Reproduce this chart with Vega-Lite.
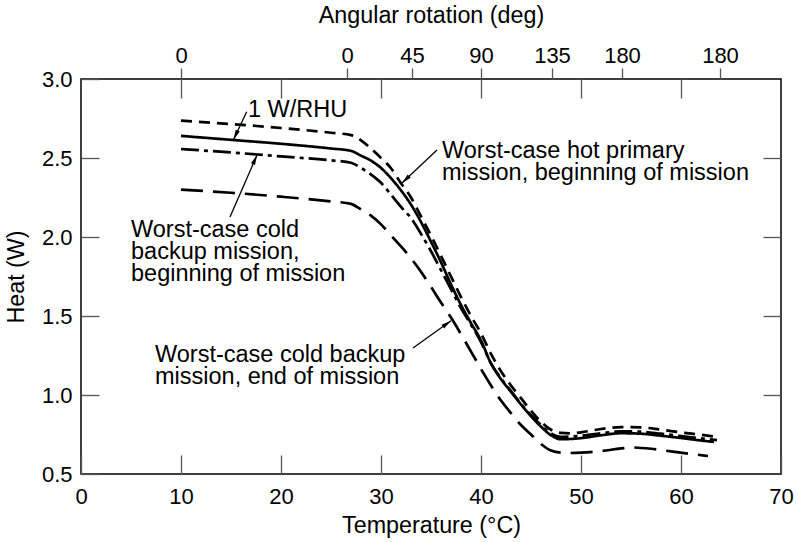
{
  "$schema": "https://vega.github.io/schema/vega-lite/v6.json",
  "width": 700,
  "height": 395,
  "autosize": {"type": "none"},
  "padding": {"left": 81, "top": 79, "right": 17, "bottom": 68},
  "config": {
    "view": {"stroke": "black", "strokeWidth": 1.5},
    "font": "Liberation Sans",
    "axis": {
      "grid": false,
      "domain": false,
      "labelFont": "Liberation Sans",
      "titleFont": "Liberation Sans",
      "labelColor": "black",
      "titleColor": "black",
      "labelFontSize": 22,
      "titleFontSize": 23.3,
      "titleFontWeight": "normal",
      "tickColor": "#555555",
      "tickWidth": 1.3,
      "labelFlush": false,
      "labelOverlap": false
    }
  },
  "datasets": {
    "curves": [
      {"series": "hot", "t": 10, "h": 2.736},
      {"series": "hot", "t": 15, "h": 2.715},
      {"series": "hot", "t": 20, "h": 2.69},
      {"series": "hot", "t": 25, "h": 2.66},
      {"series": "hot", "t": 27, "h": 2.645},
      {"series": "hot", "t": 28, "h": 2.612},
      {"series": "hot", "t": 29, "h": 2.56},
      {"series": "hot", "t": 30, "h": 2.5},
      {"series": "hot", "t": 31, "h": 2.435},
      {"series": "hot", "t": 32, "h": 2.34},
      {"series": "hot", "t": 33, "h": 2.25},
      {"series": "hot", "t": 34, "h": 2.13},
      {"series": "hot", "t": 35, "h": 2.01},
      {"series": "hot", "t": 36, "h": 1.88},
      {"series": "hot", "t": 37, "h": 1.75},
      {"series": "hot", "t": 38, "h": 1.62},
      {"series": "hot", "t": 39, "h": 1.5},
      {"series": "hot", "t": 40, "h": 1.39},
      {"series": "hot", "t": 41, "h": 1.26},
      {"series": "hot", "t": 42, "h": 1.15},
      {"series": "hot", "t": 43, "h": 1.06},
      {"series": "hot", "t": 44, "h": 0.98},
      {"series": "hot", "t": 45, "h": 0.9},
      {"series": "hot", "t": 46, "h": 0.83},
      {"series": "hot", "t": 47, "h": 0.78},
      {"series": "hot", "t": 48, "h": 0.76},
      {"series": "hot", "t": 49, "h": 0.757},
      {"series": "hot", "t": 50, "h": 0.764},
      {"series": "hot", "t": 52, "h": 0.785},
      {"series": "hot", "t": 54, "h": 0.797},
      {"series": "hot", "t": 56, "h": 0.795},
      {"series": "hot", "t": 58, "h": 0.78},
      {"series": "hot", "t": 60, "h": 0.763},
      {"series": "hot", "t": 62, "h": 0.748},
      {"series": "hot", "t": 63.6, "h": 0.735},
      {"series": "rhu", "t": 10, "h": 2.64},
      {"series": "rhu", "t": 15, "h": 2.615},
      {"series": "rhu", "t": 20, "h": 2.59},
      {"series": "rhu", "t": 25, "h": 2.56},
      {"series": "rhu", "t": 27, "h": 2.545},
      {"series": "rhu", "t": 28, "h": 2.515},
      {"series": "rhu", "t": 29, "h": 2.483},
      {"series": "rhu", "t": 30, "h": 2.437},
      {"series": "rhu", "t": 31, "h": 2.372},
      {"series": "rhu", "t": 32, "h": 2.295},
      {"series": "rhu", "t": 33, "h": 2.205},
      {"series": "rhu", "t": 34, "h": 2.095},
      {"series": "rhu", "t": 35, "h": 1.97},
      {"series": "rhu", "t": 36, "h": 1.84},
      {"series": "rhu", "t": 37, "h": 1.7},
      {"series": "rhu", "t": 38, "h": 1.57},
      {"series": "rhu", "t": 39, "h": 1.455},
      {"series": "rhu", "t": 40, "h": 1.345},
      {"series": "rhu", "t": 41, "h": 1.2},
      {"series": "rhu", "t": 42, "h": 1.1},
      {"series": "rhu", "t": 43, "h": 1.02},
      {"series": "rhu", "t": 44, "h": 0.94},
      {"series": "rhu", "t": 45, "h": 0.865},
      {"series": "rhu", "t": 46, "h": 0.8},
      {"series": "rhu", "t": 47, "h": 0.745},
      {"series": "rhu", "t": 48, "h": 0.72},
      {"series": "rhu", "t": 50, "h": 0.727},
      {"series": "rhu", "t": 52, "h": 0.745},
      {"series": "rhu", "t": 54, "h": 0.758},
      {"series": "rhu", "t": 56, "h": 0.755},
      {"series": "rhu", "t": 58, "h": 0.742},
      {"series": "rhu", "t": 60, "h": 0.728},
      {"series": "rhu", "t": 62, "h": 0.712},
      {"series": "rhu", "t": 63.3, "h": 0.703},
      {"series": "coldBOM", "t": 10, "h": 2.557},
      {"series": "coldBOM", "t": 15, "h": 2.535},
      {"series": "coldBOM", "t": 20, "h": 2.51},
      {"series": "coldBOM", "t": 25, "h": 2.485},
      {"series": "coldBOM", "t": 27, "h": 2.47},
      {"series": "coldBOM", "t": 28, "h": 2.437},
      {"series": "coldBOM", "t": 29, "h": 2.395},
      {"series": "coldBOM", "t": 30, "h": 2.343},
      {"series": "coldBOM", "t": 31, "h": 2.268},
      {"series": "coldBOM", "t": 32, "h": 2.19},
      {"series": "coldBOM", "t": 33, "h": 2.12},
      {"series": "coldBOM", "t": 34, "h": 2.02},
      {"series": "coldBOM", "t": 35, "h": 1.91},
      {"series": "coldBOM", "t": 36, "h": 1.79},
      {"series": "coldBOM", "t": 37, "h": 1.67},
      {"series": "coldBOM", "t": 38, "h": 1.55},
      {"series": "coldBOM", "t": 39, "h": 1.445},
      {"series": "coldBOM", "t": 40, "h": 1.335},
      {"series": "coldBOM", "t": 41, "h": 1.2},
      {"series": "coldBOM", "t": 42, "h": 1.105},
      {"series": "coldBOM", "t": 43, "h": 1.025},
      {"series": "coldBOM", "t": 44, "h": 0.945},
      {"series": "coldBOM", "t": 45, "h": 0.872},
      {"series": "coldBOM", "t": 46, "h": 0.81},
      {"series": "coldBOM", "t": 47, "h": 0.757},
      {"series": "coldBOM", "t": 48, "h": 0.735},
      {"series": "coldBOM", "t": 50, "h": 0.742},
      {"series": "coldBOM", "t": 52, "h": 0.758},
      {"series": "coldBOM", "t": 54, "h": 0.77},
      {"series": "coldBOM", "t": 56, "h": 0.768},
      {"series": "coldBOM", "t": 58, "h": 0.755},
      {"series": "coldBOM", "t": 60, "h": 0.74},
      {"series": "coldBOM", "t": 62, "h": 0.725},
      {"series": "coldBOM", "t": 63.6, "h": 0.714},
      {"series": "coldEOM", "t": 10, "h": 2.3},
      {"series": "coldEOM", "t": 15, "h": 2.28},
      {"series": "coldEOM", "t": 20, "h": 2.255},
      {"series": "coldEOM", "t": 25, "h": 2.225},
      {"series": "coldEOM", "t": 27, "h": 2.21},
      {"series": "coldEOM", "t": 28, "h": 2.175},
      {"series": "coldEOM", "t": 29, "h": 2.135},
      {"series": "coldEOM", "t": 30, "h": 2.08},
      {"series": "coldEOM", "t": 31, "h": 2.01},
      {"series": "coldEOM", "t": 32, "h": 1.94},
      {"series": "coldEOM", "t": 33, "h": 1.865},
      {"series": "coldEOM", "t": 34, "h": 1.78},
      {"series": "coldEOM", "t": 35, "h": 1.685},
      {"series": "coldEOM", "t": 36, "h": 1.585},
      {"series": "coldEOM", "t": 37, "h": 1.49},
      {"series": "coldEOM", "t": 38, "h": 1.385},
      {"series": "coldEOM", "t": 39, "h": 1.275},
      {"series": "coldEOM", "t": 40, "h": 1.165},
      {"series": "coldEOM", "t": 41, "h": 1.06},
      {"series": "coldEOM", "t": 42, "h": 0.965},
      {"series": "coldEOM", "t": 43, "h": 0.885},
      {"series": "coldEOM", "t": 44, "h": 0.81},
      {"series": "coldEOM", "t": 45, "h": 0.75},
      {"series": "coldEOM", "t": 46, "h": 0.69},
      {"series": "coldEOM", "t": 47, "h": 0.648},
      {"series": "coldEOM", "t": 48, "h": 0.635},
      {"series": "coldEOM", "t": 49, "h": 0.633},
      {"series": "coldEOM", "t": 50, "h": 0.635},
      {"series": "coldEOM", "t": 52, "h": 0.645},
      {"series": "coldEOM", "t": 54, "h": 0.662},
      {"series": "coldEOM", "t": 55, "h": 0.668},
      {"series": "coldEOM", "t": 57, "h": 0.66},
      {"series": "coldEOM", "t": 59, "h": 0.643},
      {"series": "coldEOM", "t": 61, "h": 0.627},
      {"series": "coldEOM", "t": 62.7, "h": 0.614}
    ],
    "notes": [
      {"label": "1 W/RHU", "t": 16.7, "h": 2.759},
      {"label": "Worst-case hot primary\nmission, beginning of mission", "t": 36.1, "h": 2.5},
      {"label": "Worst-case cold\nbackup mission,\nbeginning of mission", "t": 5.0, "h": 2.0},
      {"label": "Worst-case cold backup\nmission, end of mission", "t": 7.4, "h": 1.209}
    ],
    "arrows": [
      {"t": 16.57, "h": 2.793, "t2": 15.25, "h2": 2.616},
      {"t": 35.6, "h": 2.551, "t2": 32.1, "h2": 2.342},
      {"t": 14.9, "h": 2.127, "t2": 17.6, "h2": 2.519},
      {"t": 33.2, "h": 1.297, "t2": 37.0, "h2": 1.47}
    ]
  },
  "layer": [
    {
      "data": {"name": "curves"},
      "mark": {"type": "line", "interpolate": "monotone", "strokeWidth": 2.7, "color": "black"},
      "encoding": {
        "x": {
          "field": "t", "type": "quantitative",
          "scale": {"domain": [0, 70], "nice": false, "zero": false},
          "axis": {
            "orient": "bottom",
            "values": [0, 10, 20, 30, 40, 50, 60, 70],
            "tickSize": -19,
            "labelPadding": 31,
            "title": "Temperature (°C)",
            "titleY": 58,
            "titleBaseline": "alphabetic"
          }
        },
        "y": {
          "field": "h", "type": "quantitative",
          "scale": {"domain": [0.5, 3.0], "nice": false, "zero": false},
          "axis": {
            "orient": "left",
            "values": [0.5, 1.0, 1.5, 2.0, 2.5, 3.0],
            "format": ".1f",
            "tickSize": -18,
            "labelPadding": 27,
            "title": "Heat (W)",
            "titleX": -58,
            "titleBaseline": "alphabetic"
          }
        },
        "strokeDash": {
          "field": "series", "type": "nominal",
          "scale": {"domain": ["hot", "rhu", "coldBOM", "coldEOM"], "range": [[11, 7], [1, 0], [18, 5, 4, 5], [22, 10]]},
          "legend": null
        }
      }
    },
    {
      "data": {"name": "notes"},
      "mark": {"type": "text", "align": "left", "baseline": "alphabetic", "fontSize": 23.5, "font": "Liberation Sans", "lineBreak": "\n", "lineHeight": 22, "color": "black"},
      "encoding": {
        "x": {
          "field": "t", "type": "quantitative",
          "scale": {"domain": [0, 70], "nice": false, "zero": false},
          "axis": {
            "orient": "top",
            "values": [10, 26.6, 33.1, 40, 47.1, 54.1, 63.9],
            "labelExpr": "datum.value == 10 || datum.value == 26.6 ? '0' : datum.value == 33.1 ? '45' : datum.value == 40 ? '90' : datum.value == 47.1 ? '135' : '180'",
            "tickSize": 11,
            "labelPadding": 1,
            "title": "Angular rotation (deg)",
            "titleY": -57,
            "titleBaseline": "alphabetic"
          }
        },
        "y": {
          "field": "h", "type": "quantitative",
          "scale": {"domain": [0.5, 3.0], "nice": false, "zero": false},
          "axis": {
            "orient": "right",
            "values": [1.0, 1.5, 2.0, 2.5],
            "tickSize": -18,
            "labels": false,
            "title": null
          }
        },
        "text": {"field": "label", "type": "nominal"}
      }
    },
    {
      "data": {"name": "arrows"},
      "mark": {"type": "rule", "color": "black", "strokeWidth": 1.3},
      "encoding": {
        "x": {
          "field": "t", "type": "quantitative",
          "scale": {"domain": [0, 70], "nice": false, "zero": false},
          "axis": {
            "orient": "top",
            "values": [10, 20, 30, 40, 50, 60],
            "tickSize": -19,
            "labels": false,
            "title": null
          }
        },
        "y": {"field": "h", "type": "quantitative", "scale": {"domain": [0.5, 3.0], "nice": false, "zero": false}, "axis": null},
        "x2": {"field": "t2"},
        "y2": {"field": "h2"}
      }
    },
    {
      "data": {"name": "arrows"},
      "transform": [
        {"calculate": "atan2((datum.t2 - datum.t) * 10, (datum.h2 - datum.h) * 158) * 180 / PI", "as": "ang"}
      ],
      "mark": {"type": "point", "shape": "M0,0L0.9,4L-0.9,4Z", "filled": true, "size": 25, "color": "black", "opacity": 1},
      "encoding": {
        "x": {"field": "t2", "type": "quantitative", "scale": {"domain": [0, 70], "nice": false, "zero": false}, "axis": null},
        "y": {"field": "h2", "type": "quantitative", "scale": {"domain": [0.5, 3.0], "nice": false, "zero": false}, "axis": null},
        "angle": {"field": "ang", "type": "quantitative", "scale": null}
      }
    }
  ],
  "resolve": {"axis": {"x": "independent", "y": "independent"}}
}
